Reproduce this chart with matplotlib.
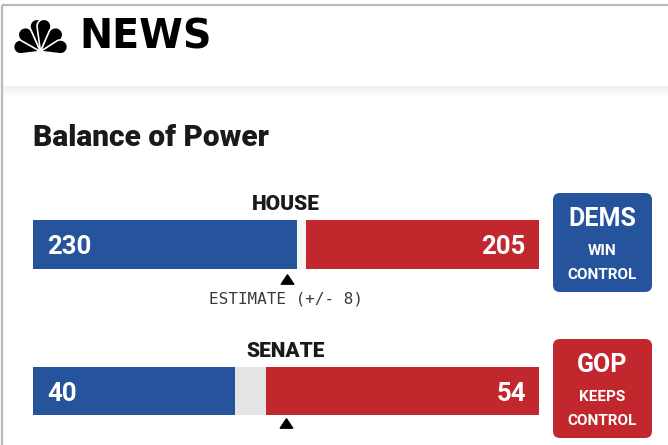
import numpy as np
import matplotlib
matplotlib.use("Agg")
import matplotlib.pyplot as plt
from matplotlib.patches import Polygon, FancyBboxPatch, Rectangle
from matplotlib.path import Path
import matplotlib.transforms as mtransforms

# ---- data ----
chambers = ["HOUSE", "SENATE"]
dem_seats = [230, 40]
undecided_seats = [0, 6]
gop_seats = [205, 54]
majority_mark = [218, 50]
verdict_party = ["DEMS", "GOP"]
verdict_lines = [["WIN", "CONTROL"], ["KEEPS", "CONTROL"]]
estimate_label = "ESTIMATE (+/- 8)"
title = "Balance of Power"
brand = "NEWS"

BLUE = "#25549d"
RED = "#c1272d"
GRAY = "#e4e4e4"

W, H = 668, 445
fig = plt.figure(figsize=(W / 100, H / 100), dpi=100)
fig.patch.set_facecolor("white")

deco = fig.add_axes([0, 0, 1, 1])
deco.set_xlim(0, W)
deco.set_ylim(H, 0)
deco.axis("off")
deco.set_zorder(10)
deco.patch.set_alpha(0)

# frame lines
deco.plot([1.5, W], [4.5, 4.5], color="#b9b9b9", lw=1.6, solid_capstyle="butt")
deco.plot([1.5, 1.5], [4.5, H], color="#b9b9b9", lw=1.6, solid_capstyle="butt")

# header separator (soft shadow)
shades = np.linspace(0.94, 1.0, 12)
for i, s in enumerate(shades):
    deco.add_patch(Rectangle((3, 86 + i), W, 1.0, color=(s, s, s), lw=0))

# peacock logo
def feather(bx, by, theta_deg, d, r):
    th = np.radians(theta_deg)
    cx, cy = bx + d * np.cos(th), by - d * np.sin(th)
    a = np.arcsin(r / d)
    angs = np.linspace(th + np.pi / 2 + a, th - np.pi / 2 - a, 30)
    pts = [(bx, by)] + [(cx + r * np.cos(t), cy - r * np.sin(t)) for t in angs]
    return Polygon(pts, closed=True, facecolor="black", edgecolor="white", lw=1.2)

bx, by = 40.5, 51.5
for ang, d, r in [(167, 20.5, 7.0), (132, 22.5, 7.2), (98, 25.5, 7.0),
                  (82, 25.5, 7.0), (48, 22.5, 7.2), (13, 20.5, 7.0)]:
    deco.add_patch(feather(bx, by, ang, d, r))

deco.text(79, 48.5, brand, fontsize=28.5, fontweight="bold", family="DejaVu Sans",
          color="black", ha="left", va="baseline")

deco.text(33, 146, title, fontsize=21.5, fontweight="black", family="Roboto",
          color="#1a1a1a", ha="left", va="baseline")

# bars
bar_left, bar_right = 33, 539
bar_tops = [220, 367]
bar_h = [49, 48]
box_tops = [193, 339]
box_colors = [BLUE, RED]
tri_y = [-0.2, -0.17]

tri_marker = Path([(-1, -0.75), (1, -0.75), (0, 0.75), (-1, -0.75)],
                  [Path.MOVETO, Path.LINETO, Path.LINETO, Path.CLOSEPOLY])

for i, name in enumerate(chambers):
    total = dem_seats[i] + undecided_seats[i] + gop_seats[i]
    top = bar_tops[i]
    ax = fig.add_axes([bar_left / W, (H - top - bar_h[i]) / H,
                       (bar_right - bar_left) / W, bar_h[i] / H])
    ax.set_xlim(0, total)
    ax.set_ylim(-0.5, 0.5)
    ax.axis("off")
    ax.barh(0, dem_seats[i], left=0, height=1, color=BLUE, lw=0)
    ax.barh(0, undecided_seats[i], left=dem_seats[i], height=1, color=GRAY, lw=0)
    ax.barh(0, gop_seats[i], left=dem_seats[i] + undecided_seats[i], height=1,
            color=RED, lw=0)
    if undecided_seats[i] == 0:
        ax.axvline(dem_seats[i], color="#f4f4f4", lw=6.5)
    trans = mtransforms.blended_transform_factory(ax.transData, ax.transAxes)
    ax.plot([majority_mark[i]], [tri_y[i]], marker=tri_marker, markersize=9,
            color="black", transform=trans, clip_on=False, lw=0)

    # labels in pixel space
    deco.text(286, top - 10, name, fontsize=15, fontweight="black", family="Roboto",
              color="#1a1a1a", ha="center", va="baseline")
    deco.text(47, top + 34, str(dem_seats[i]), fontsize=18.5, fontweight="bold",
              family="Roboto", color="white", ha="left", va="baseline")
    deco.text(526, top + 34, str(gop_seats[i]), fontsize=18.5, fontweight="bold",
              family="Roboto", color="white", ha="right", va="baseline")

    # verdict box
    bt = box_tops[i]
    deco.add_patch(FancyBboxPatch((555, bt + 2), 95, 95,
                                  boxstyle="round,pad=2,rounding_size=7",
                                  facecolor=box_colors[i], edgecolor="none"))
    deco.text(602.5, bt + 33, verdict_party[i], fontsize=18, fontweight="bold",
              family="Roboto", color="white", ha="center", va="baseline")
    deco.text(602.5, bt + 62, verdict_lines[i][0], fontsize=11, fontweight="bold",
              family="Roboto", color="white", ha="center", va="baseline")
    deco.text(602.5, bt + 86, verdict_lines[i][1], fontsize=11, fontweight="bold",
              family="Roboto", color="white", ha="center", va="baseline")

deco.text(286, 304, estimate_label, fontsize=11.5, family="DejaVu Sans Mono",
          color="#3a3a3a", ha="center", va="baseline")

fig.savefig("out.png", dpi=100, facecolor="white")
